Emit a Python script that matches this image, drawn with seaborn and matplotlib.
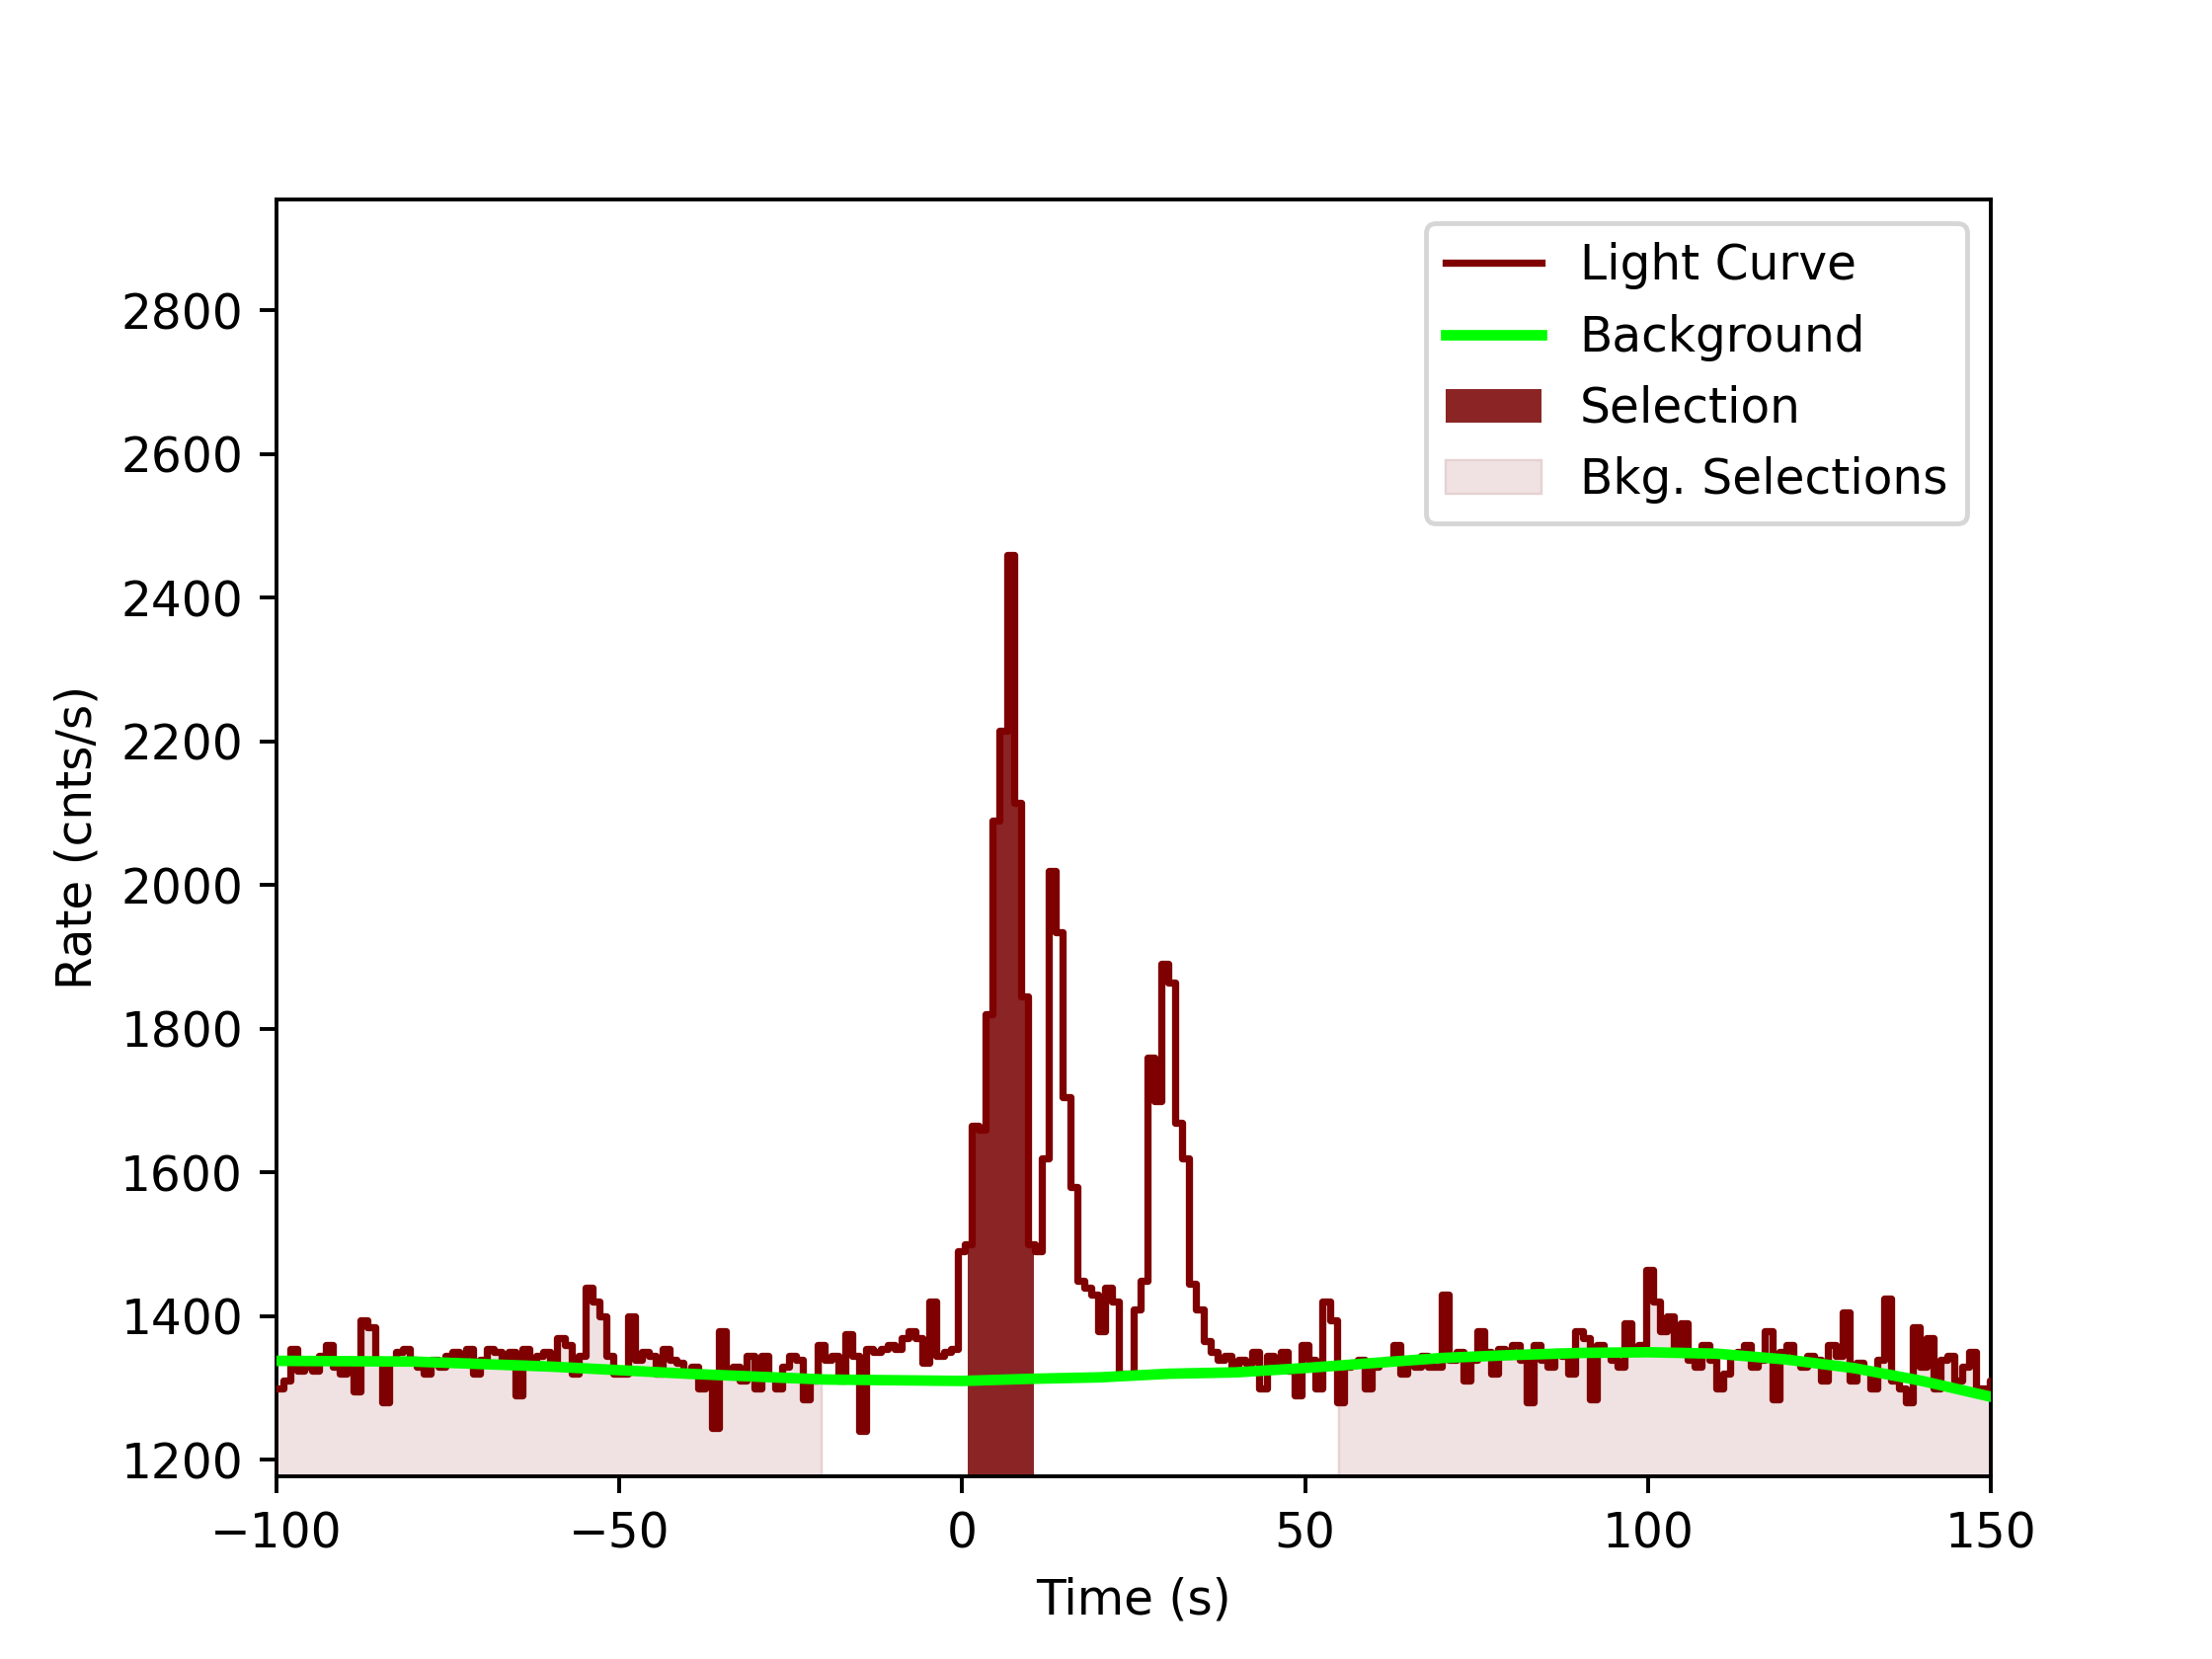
import numpy as np
import pandas as pd
import matplotlib
matplotlib.use("Agg")
import matplotlib.pyplot as plt
import seaborn as sns

bin_width = 1.024
t_start = -100.0
pre_rates = [1300,1310,1355,1325,1330,1325,1345,1360,1330,1320,1340,1295,1395,1385,1340,1280,1340,1350,1355,1340,
             1330,1320,1340,1330,1345,1350,1345,1355,1320,1340,1355,1350,1340,1350,1290,1355,1335,1345,1350,1335,
             1370,1360,1320,1345,1440,1420,1400,1345,1320,1320,1400,1340,1350,1345,1320,1355,1340,1335,1320,1330,
             1300,1315,1245,1380,1320,1330,1310,1345,1300,1345,1315,1300,1330,1345,1340,1285,1310,1360,1340,1345,
             1310,1375,1345,1240,1355,1350,1355,1360,1355,1370,1380,1370,1335,1420,1345,1350,1355,1490,1500]
burst_rates = [1665,1660,1820,2090,2215,2460,2115,1845,1500,1490,1620,2020,1935,1705,1580,1450,1440,1430,1380,
               1440,1420,1320,1320,1410,1450,1760,1700,1890,1865,1670,1620,1445,1410,1365,1350,1340,1345,1330]
post_rates = [1340,1335,1350,1300,1345,1330,1350,1325,1290,1360,1340,1300,1420,1395,1280,1330,1335,1340,1300,1330,
              1335,1340,1360,1320,1340,1330,1345,1330,1330,1430,1340,1350,1310,1340,1380,1350,1320,1355,1345,1360,
              1340,1280,1360,1340,1330,1350,1345,1320,1380,1370,1285,1360,1350,1340,1330,1390,1350,1360,1465,1420,
              1380,1400,1350,1390,1340,1330,1360,1340,1300,1320,1345,1350,1360,1330,1340,1380,1285,1350,1360,1340,
              1330,1345,1340,1310,1360,1345,1405,1310,1335,1325,1300,1340,1425,1310,1300,1280,1385,1330,1370,1300,
              1340,1345,1310,1330,1350,1300,1300,1310,1340,1300]
bkg_times = [-100,-80,-60,-40,-20,0,10,20,30,40,50,60,70,80,90,100,110,120,130,140,150]
bkg_rates = [1338,1337,1330,1320,1312,1310,1313,1315,1320,1322,1328,1335,1342,1346,1349,1350,1348,1340,1328,1310,1288]
selection = (0.8, 10.5)
bkg_selections = [(-100, -20.5), (55, 150)]

rates = np.array(pre_rates + burst_rates + post_rates, dtype=float)
times = t_start + bin_width * np.arange(len(rates))
df = pd.DataFrame({"t": times, "rate": rates})
bk = pd.DataFrame({"t": bkg_times, "rate": bkg_rates})

def segment(lo, hi):
    m = (times >= lo - bin_width) & (times <= hi)
    tt = np.clip(times[m], lo, hi)
    rr = rates[m]
    return np.append(tt, hi), np.append(rr, rr[-1])

fig, ax = plt.subplots(figsize=(6.4, 4.8), dpi=350)
ymin = 1177
lc = "#7f0000"
for lo, hi in bkg_selections:
    tt, rr = segment(lo, hi)
    ax.fill_between(tt, ymin, rr, step="post", color="#f0e2e2", lw=0.5,
                    edgecolor="#e6d2d2", label="Bkg. Selections" if lo < 0 else None, zorder=1)
tt, rr = segment(*selection)
ax.fill_between(tt, ymin, rr, step="post", color="#8b2525", lw=0, label="Selection", zorder=2)
sns.lineplot(data=df, x="t", y="rate", drawstyle="steps-post", color=lc, lw=1.5, ax=ax,
             label="Light Curve", zorder=3)
sns.lineplot(data=bk, x="t", y="rate", color="#00ff00", lw=2.2, ax=ax, label="Background", zorder=4)

h, l = ax.get_legend_handles_labels()
order = [l.index(n) for n in ["Light Curve", "Background", "Selection", "Bkg. Selections"]]
ax.legend([h[i] for i in order], [l[i] for i in order], loc="upper right", fontsize=10)
ax.set_xlim(-100, 150)
ax.set_ylim(ymin, 2955)
ax.set_yticks(range(1200, 2801, 200))
ax.set_xlabel("Time (s)")
ax.set_ylabel("Rate (cnts/s)")
fig.savefig("out.png")
